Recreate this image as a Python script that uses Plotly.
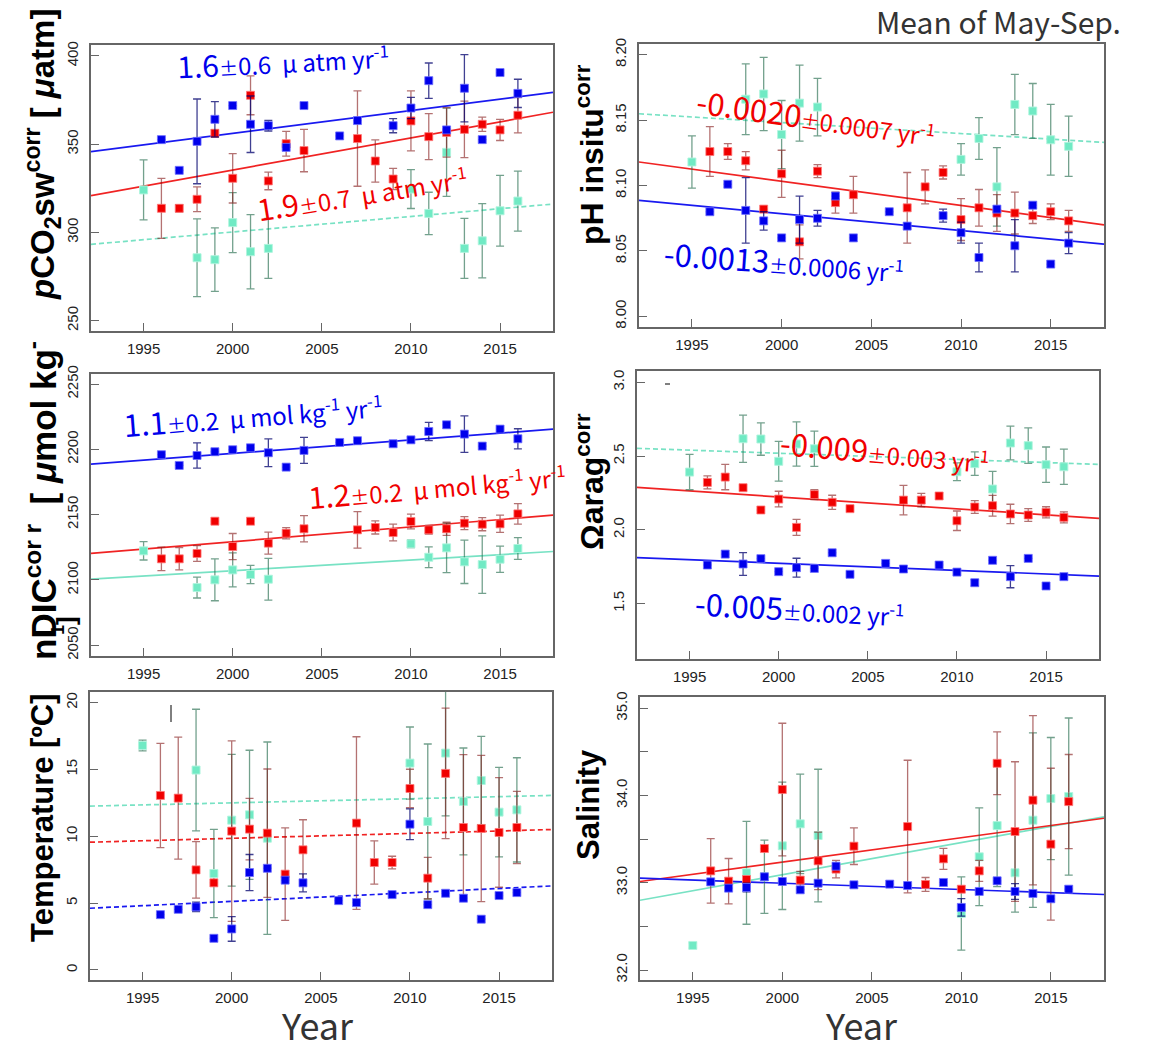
import plotly.graph_objects as go

W, H = 1153, 1044

# ---------------------------------------------------------------- data
years_blue = [1996, 1997, 1998, 1999, 2000, 2001, 2002, 2003, 2004, 2006,
              2007, 2009, 2010, 2011, 2012, 2013, 2014, 2015, 2016]
years_red = [1996, 1997, 1998, 1999, 2000, 2001, 2002, 2003, 2004, 2007,
             2008, 2009, 2010, 2011, 2012, 2013, 2014, 2015, 2016]
years_teal = [1995, 1998, 1999, 2000, 2001, 2002, 2010, 2011, 2012, 2013,
              2014, 2015, 2016]
trend_years = [1992.05, 2017.97]

# pCO2sw corr [uatm]
pco2_blue = [352.6, 335.2, 351.6, 364.1, 371.9, 361.3, 360.5, 348.2, 371.9, 354.7,
             363.4, 360.5, 370.5, 386.0, 358.1, 381.7, 352.6, 390.6, 378.8]
pco2_blue_err = [0, 0, 24, 10, 0, 16, 3, 0, 0, 0, 0, 4, 6, 10, 0, 19, 0, 0, 8]
pco2_red = [313.7, 313.7, 318.8, 356.2, 330.7, 377.7, 329.2, 350.3, 346.4, 353.2,
            340.5, 330.3, 363.2, 354.3, 356.7, 358.4, 361.3, 358.1, 366.4]
pco2_red_err = [17, 2, 7, 2, 14, 11, 5, 7, 12, 27, 12, 6, 17, 13, 14, 16, 4, 6, 10]
pco2_teal = [324.1, 285.7, 284.6, 305.6, 289.1, 291.0, 324.6, 310.8, 345.4, 291.0,
             295.3, 312.3, 317.8]
pco2_teal_err = [17, 22, 18, 17, 21, 17, 11, 12, 25, 17, 21, 20, 17]
pco2_trend_blue = [345.8, 379.4]
pco2_trend_red = [320.9, 368.1]
pco2_trend_teal = [293.3, 316.1]

# pH insitu corr
ph_blue = [8.080, 8.101, 8.081, 8.073, 8.060, 8.074, 8.075, 8.092, 8.060, 8.080,
           8.069, 8.077, 8.064, 8.045, 8.082, 8.054, 8.085, 8.040, 8.056]
ph_blue_err = [0, 0, 0.025, 0.007, 0, 0.018, 0.006, 0, 0, 0, 0, 0.005, 0.008,
               0.011, 0, 0.020, 0, 0, 0.008]
ph_red = [8.126, 8.126, 8.119, 8.082, 8.109, 8.057, 8.111, 8.087, 8.093, 8.083,
          8.099, 8.110, 8.074, 8.083, 8.079, 8.079, 8.077, 8.080, 8.073]
ph_red_err = [0.019, 0.006, 0.007, 0, 0.018, 0.013, 0.005, 0.008, 0.014, 0.027,
              0.013, 0.005, 0.016, 0.014, 0.014, 0.016, 0.006, 0.006, 0.008]
ph_teal = [8.118, 8.166, 8.170, 8.139, 8.163, 8.160, 8.120, 8.136, 8.099, 8.162,
           8.157, 8.135, 8.130]
ph_teal_err = [0.020, 0.027, 0.028, 0.026, 0.029, 0.022, 0.012, 0.016, 0.030,
               0.023, 0.021, 0.027, 0.023]
ph_trend_blue = [8.0887, 8.0553]
ph_trend_red = [8.118, 8.070]
ph_trend_teal = [8.1549, 8.133]

# nDIC corr [umol kg-1]
dic_blue = [2195.9, 2187.7, 2195.3, 2198.2, 2199.7, 2201.2, 2197.4, 2186.4, 2199.2,
            2205.3, 2206.6, 2204.3, 2207.3, 2213.7, 2218.8, 2211.7, 2202.5, 2215.5,
            2208.1]
dic_blue_err = [0, 0, 9.6, 0, 0, 0, 10.6, 0, 10, 0, 0, 0, 0, 7, 0, 14, 0, 0, 7.7]
dic_red = [2116.2, 2116.2, 2120.3, 2145.0, 2125.6, 2145.0, 2128.2, 2135.8, 2139.2,
           2138.4, 2140.2, 2136.3, 2144.8, 2138.4, 2139.2, 2143.5, 2142.7, 2143.0,
           2150.6]
dic_red_err = [9, 8.5, 6, 0, 10, 0, 8.4, 4.3, 10, 14, 5, 6.4, 5.6, 3.3, 5, 5, 5,
               6.6, 7.8]
dic_teal = [2122.3, 2094.2, 2100.1, 2107.7, 2104.2, 2100.6, 2127.7, 2117.4, 2124.6,
            2113.9, 2111.8, 2115.9, 2124.1]
dic_teal_err = [7, 8, 16, 13, 7, 16, 3, 8, 19, 16.6, 22, 10, 8.4]
dic_trend_blue = [2188.7, 2215.5]
dic_trend_red = [2120.3, 2149.6]
dic_trend_teal = [2100.6, 2121.8]

# Omega arag corr
om_blue = [1.762, 1.836, 1.769, 1.805, 1.717, 1.744, 1.739, 1.845, 1.699, 1.773,
           1.735, 1.762, 1.714, 1.642, 1.794, 1.683, 1.807, 1.620, 1.683]
om_blue_err = [0, 0, 0.077, 0, 0, 0.064, 0, 0, 0, 0, 0, 0, 0.02, 0.02, 0, 0.075,
               0, 0, 0]
om_red = [2.322, 2.358, 2.286, 2.135, 2.209, 2.017, 2.239, 2.187, 2.144, 2.202,
          2.202, 2.230, 2.062, 2.155, 2.164, 2.108, 2.101, 2.119, 2.085]
om_red_err = [0.044, 0.086, 0.02, 0, 0.053, 0.054, 0.033, 0.048, 0, 0.1, 0.045,
              0.02, 0.066, 0.043, 0.07, 0.066, 0.043, 0.038, 0.037]
om_teal = [2.392, 2.618, 2.616, 2.465, 2.582, 2.550, 2.394, 2.449, 2.277, 2.589,
           2.571, 2.442, 2.428]
om_teal_err = [0.12, 0.16, 0.11, 0.135, 0.15, 0.12, 0.06, 0.08, 0.12, 0.115, 0.12,
               0.12, 0.12]
om_trend_blue = [1.812, 1.687]
om_trend_red = [2.288, 2.078]
om_trend_teal = [2.553, 2.444]

# Temperature [degC]
temp_blue = [4.14, 4.54, 4.72, 2.37, 3.07, 7.29, 7.61, 6.72, 6.52, 5.19, 5.04,
             5.64, 10.91, 4.89, 5.74, 5.37, 3.80, 5.57, 5.79]
temp_blue_err = [0, 0, 0.36, 0, 0.92, 1.35, 0, 0, 0.67, 0, 0, 0, 1.15, 0, 0, 0,
                 0, 0, 0]
temp_red = [13.06, 12.86, 7.49, 6.52, 10.39, 10.54, 10.24, 7.17, 8.99, 10.99,
            8.04, 8.04, 13.58, 6.87, 14.71, 10.66, 10.59, 10.29, 10.66]
temp_red_err = [3.9, 4.56, 2.12, 0, 6.75, 2.3, 4.8, 3.46, 2.25, 6.46, 1.62, 0.47,
                1.44, 1.55, 4.88, 5.45, 5.47, 4.1, 2.7]
temp_teal = [16.80, 14.96, 7.22, 11.21, 11.61, 9.86, 15.48, 11.11, 16.23, 12.61,
             14.18, 11.81, 11.98]
temp_teal_err = [0.4, 4.55, 3.3, 4.93, 4.83, 7.2, 2.7, 5.8, 4.7, 4.0, 3.3, 3.35, 3.9]
temp_trend_blue = [4.62, 6.29]
temp_trend_red = [9.56, 10.51]
temp_trend_teal = [12.26, 13.06]

# Salinity
sal_blue = [33.011, 32.939, 32.947, 33.069, 33.015, 32.920, 32.996, 33.191, 32.977,
            32.985, 32.969, 33.004, 32.718, 32.901, 33.023, 32.901, 32.878, 32.817,
            32.927]
sal_blue_err = [0, 0, 0.05, 0, 0, 0, 0.03, 0, 0, 0, 0, 0, 0.1, 0, 0, 0.09, 0, 0, 0]
sal_red = [33.137, 33.019, 33.038, 33.393, 34.069, 33.031, 33.252, 33.157, 33.420,
           33.645, 32.981, 33.275, 32.927, 33.137, 34.370, 33.588, 33.947, 33.443,
           33.931]
sal_red_err = [0.37, 0.26, 0, 0, 0.76, 0.1, 0.33, 0.1, 0.21, 0.76, 0.08, 0.12, 0,
               0.12, 0.36, 0.8, 0.97, 0.87, 0.54]
sal_teal = [32.282, 33.115, 33.069, 33.424, 33.676, 33.542, 32.649, 33.298, 33.656,
            33.115, 33.718, 33.966, 33.989]
sal_teal_err = [0.03, 0.59, 0.42, 0.73, 0.57, 0.76, 0.42, 0.56, 0.7, 0.45, 1.0,
                0.7, 0.9]
sal_trend_blue = [33.053, 32.866]
sal_trend_red = [33.015, 33.740]
sal_trend_teal = [32.80, 33.756]

x_ticks = [1995, 2000, 2005, 2010, 2015]

# ---------------------------------------------------------------- styles
BLUE = "rgb(0,0,235)"
RED = "rgb(240,0,0)"
TEAL = "rgb(112,234,196)"
styles = {
    "blue": dict(color=BLUE, edge="rgba(110,110,255,0.8)", err="rgba(0,0,110,0.75)",
                 line="rgb(25,25,240)"),
    "red": dict(color=RED, edge="rgba(255,120,120,0.8)", err="rgba(130,20,20,0.6)",
                line="rgb(240,35,35)"),
    "teal": dict(color=TEAL, edge="rgba(175,245,222,0.9)", err="rgba(40,110,80,0.65)",
                 line="rgb(120,226,196)"),
}

TICK_FONT = dict(family="Liberation Sans, Arial, sans-serif", size=15, color="#222")
TITLE_FAMILY = "Liberation Sans, Arial, sans-serif"
JP_FONT = "Noto Sans CJK JP, Noto Sans, sans-serif"

panels = [
    dict(series=[("teal", years_teal, pco2_teal, pco2_teal_err, pco2_trend_teal, "dash"),
                 ("red", years_red, pco2_red, pco2_red_err, pco2_trend_red, "solid"),
                 ("blue", years_blue, pco2_blue, pco2_blue_err, pco2_trend_blue, "solid")],
         xd=(91, 553), yd=(45, 331), yr=(244.2, 406.2),
         yt=[250, 300, 350, 400], ytext=None, minor=None),
    dict(series=[("teal", years_teal, ph_teal, ph_teal_err, ph_trend_teal, "dash"),
                 ("red", years_red, ph_red, ph_red_err, ph_trend_red, "solid"),
                 ("blue", years_blue, ph_blue, ph_blue_err, ph_trend_blue, "solid")],
         xd=(639, 1104), yd=(44, 327), yr=(7.9919, 8.2082),
         yt=[8.00, 8.05, 8.10, 8.15, 8.20], ytext=["8.00", "8.05", "8.10", "8.15", "8.20"],
         minor=None),
    dict(series=[("teal", years_teal, dic_teal, dic_teal_err, dic_trend_teal, "solid"),
                 ("red", years_red, dic_red, dic_red_err, dic_trend_red, "solid"),
                 ("blue", years_blue, dic_blue, dic_blue_err, dic_trend_blue, "solid")],
         xd=(91, 553), yd=(374, 656), yr=(2041.8, 2257.7),
         yt=[2050, 2100, 2150, 2200, 2250], ytext=None, minor=None),
    dict(series=[("teal", years_teal, om_teal, om_teal_err, om_trend_teal, "dash"),
                 ("red", years_red, om_red, om_red_err, om_trend_red, "solid"),
                 ("blue", years_blue, om_blue, om_blue_err, om_trend_blue, "solid")],
         xd=(637, 1099), yd=(371, 659), yr=(1.125, 3.077),
         yt=[1.5, 2.0, 2.5, 3.0], ytext=["1.5", "2.0", "2.5", "3.0"], minor=None),
    dict(series=[("teal", years_teal, temp_teal, temp_teal_err, temp_trend_teal, "dash"),
                 ("red", years_red, temp_red, temp_red_err, temp_trend_red, "dash"),
                 ("blue", years_blue, temp_blue, temp_blue_err, temp_trend_blue, "dash")],
         xd=(90, 552), yd=(692, 980), yr=(-0.75, 20.8),
         yt=[0, 5, 10, 15, 20], ytext=None, minor=None),
    dict(series=[("teal", years_teal, sal_teal, sal_teal_err, sal_trend_teal, "solid"),
                 ("red", years_red, sal_red, sal_red_err, sal_trend_red, "solid"),
                 ("blue", years_blue, sal_blue, sal_blue_err, sal_trend_blue, "solid")],
         xd=(640, 1104), yd=(697, 980), yr=(31.886, 35.13),
         yt=[32.0, 33.0, 34.0, 35.0], ytext=["32.0", "33.0", "34.0", "35.0"],
         minor=[32.5, 33.5, 34.5]),
]

fig = go.Figure()
layout = dict(width=W, height=H, margin=dict(l=0, r=0, t=0, b=0),
              paper_bgcolor="white", plot_bgcolor="white", showlegend=False)

for i, p in enumerate(panels, start=1):
    xa = "x" if i == 1 else f"x{i}"
    ya = "y" if i == 1 else f"y{i}"
    for name, yrs, vals, errs, trend, dash in p["series"]:
        st = styles[name]
        # fitted trend
        fig.add_trace(go.Scatter(
            x=trend_years, y=trend, mode="lines", xaxis=xa, yaxis=ya,
            line=dict(color=st["line"], width=1.7,
                      dash="5px,3px" if dash == "dash" else "solid"),
            hoverinfo="skip"))
    for name, yrs, vals, errs, trend, dash in p["series"]:
        st = styles[name]
        fig.add_trace(go.Scatter(
            x=yrs, y=vals, mode="markers", xaxis=xa, yaxis=ya,
            marker=dict(symbol="square", size=8, color=st["color"],
                        line=dict(color=st["edge"], width=1)),
            error_y=dict(type="data", array=errs, visible=True, color=st["err"],
                         thickness=1.3, width=4)))
    xkey = "xaxis" if i == 1 else f"xaxis{i}"
    ykey = "yaxis" if i == 1 else f"yaxis{i}"
    layout[xkey] = dict(
        domain=[p["xd"][0] / W, p["xd"][1] / W], anchor=ya, automargin=False,
        range=list(trend_years), tickvals=x_ticks, ticks="inside", ticklen=8,
        tickwidth=1.2, tickcolor="#666", showline=True, mirror=True,
        linecolor="#666", linewidth=1.7, showgrid=False, zeroline=False,
        tickfont=TICK_FONT, ticklabelstandoff=3)
    ykw = dict(
        domain=[1 - p["yd"][1] / H, 1 - p["yd"][0] / H], anchor=xa, automargin=False,
        range=list(p["yr"]), tickvals=p["yt"], ticks="inside", ticklen=8,
        tickwidth=1.2, tickcolor="#666", showline=True, mirror=True,
        linecolor="#666", linewidth=1.7, showgrid=False, zeroline=False,
        tickfont=TICK_FONT, tickangle=-90, ticklabelstandoff=5)
    if p["ytext"] is not None:
        ykw["ticktext"] = p["ytext"]
    if p["minor"] is not None:
        ykw["minor"] = dict(tickvals=p["minor"], ticks="inside", ticklen=8,
                            tickwidth=1.2, tickcolor="#666", showgrid=False)
    layout[ykey] = ykw

fig.update_layout(**layout)


def px(x):
    return x / W


def py(y):
    return 1 - y / H


annotations = []

# axis titles (rotated, bold)
titles = [
    ("<i>p</i>CO<sub>2</sub>sw<sup>corr</sup> [ <i>μ</i>atm]", 42, 155, 33),
    ("nDIC<sup>cor r</sup>  [ <i>μ</i>mol kg<sup>-</sup>", 41, 501, 35),
    ("<sup>1</sup>]", 64, 626, 26),
    ("Temperature [ºC]", 42, 818, 31),
    ("pH insitu<sup>corr</sup>", 590, 155, 32),
    ("Ωarag<sup>corr</sup>", 590, 482, 32),
    ("Salinity", 588, 805, 31),
]
for text, x, y, size in titles:
    annotations.append(dict(
        text=f"<b>{text}</b>", x=px(x), y=py(y), xref="paper", yref="paper",
        showarrow=False, textangle=-90, xanchor="center",
        yanchor="middle", font=dict(family=TITLE_FAMILY, size=size, color="#000")))

# x-axis titles and header
for x in (317, 861):
    annotations.append(dict(text="Year", x=px(x), y=py(1024), xref="paper",
                            yref="paper", showarrow=False, xanchor="center",
                            yanchor="middle",
                            font=dict(family=JP_FONT, size=36, color="#333")))
annotations.append(dict(text="Mean of May-Sep.", x=px(998), y=py(21), xref="paper",
                        yref="paper", showarrow=False, xanchor="center",
                        yanchor="middle",
                        font=dict(family=JP_FONT, size=30, color="#333")))


def trend_label(big, err, unit):
    return (f"{big}<span style=\"font-size:19px\">±</span>"
            f"<span style=\"font-size:24px\">{err} {unit}</span>")


labels = [
    (trend_label("1.6", "0.6", "&nbsp;μ atm yr<sup>-1</sup>"), BLUE, 283, 60, -3, 30),
    (trend_label("1.9", "0.7", "&nbsp;μ atm yr<sup>-1</sup>"), RED, 362, 192, -9, 30),
    (trend_label("-0.0020", "0.0007", "yr<sup>-1</sup>"), RED, 816, 117, 8, 31),
    (trend_label("-0.0013", "0.0006", "yr<sup>-1</sup>"), BLUE, 784, 260, 4, 31),
    (trend_label("1.1", "0.2", "&nbsp;μ mol kg<sup>-1</sup> yr<sup>-1</sup>"), BLUE, 253, 413, -4.5, 31),
    (trend_label("1.2", "0.2", "&nbsp;μ mol kg<sup>-1</sup> yr<sup>-1</sup>"), RED, 437, 485, -5, 30),
    (trend_label("-0.009", "0.003", "yr<sup>-1</sup>"), RED, 885, 450, 5, 31),
    (trend_label("-0.005", "0.002", "yr<sup>-1</sup>"), BLUE, 800, 607, 3, 31),
]
for text, color, x, y, ang, size in labels:
    annotations.append(dict(
        text=text, x=px(x), y=py(y), xref="paper", yref="paper", showarrow=False,
        textangle=ang, xanchor="center", yanchor="middle",
        font=dict(family=JP_FONT, size=size, color=color)))

fig.update_layout(annotations=annotations)

# two small stray strokes inside the Omega and temperature frames
fig.add_shape(type="line", xref="paper", yref="paper", x0=px(665), x1=px(670),
              y0=py(384), y1=py(384), line=dict(color="#000", width=1))
fig.add_shape(type="line", xref="paper", yref="paper", x0=px(171), x1=px(171),
              y0=py(705), y1=py(722), line=dict(color="#000", width=1))

fig.write_html("out.html")
